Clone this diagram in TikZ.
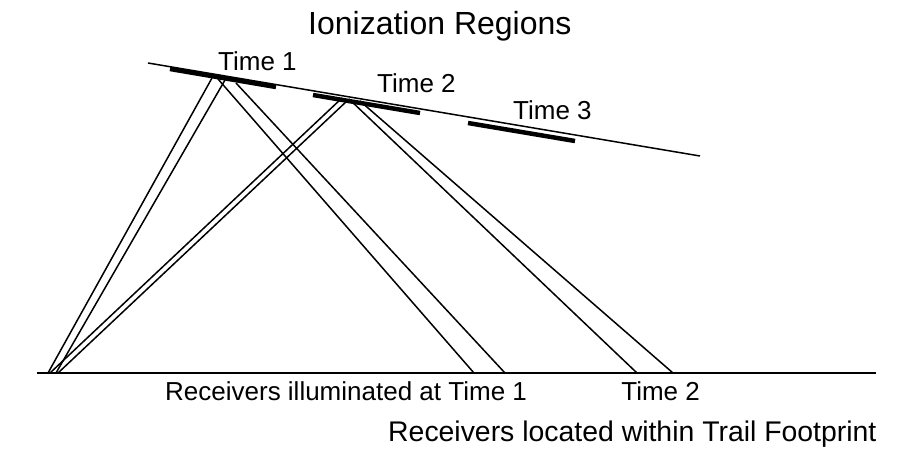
\documentclass[tikz,border=0pt]{standalone}
\usepackage{fontspec}
\setmainfont{Liberation Sans}
\usepackage{tikz}
\usetikzlibrary{positioning}

\begin{document}
\begin{tikzpicture}[
  x=1pt, y=-1pt,
  ray/.style={line width=1.5pt},
  trail/.style={line width=1.5pt},
  bar/.style={line width=4.5pt},
  ground/.style={line width=2pt},
  lbl/.style={inner sep=0pt, anchor=base west, font=\fontsize{26}{30}\selectfont},
  big/.style={inner sep=0pt, anchor=base west, font=\fontsize{28.4}{34}\selectfont}]
\useasboundingbox (0,0) rectangle (909,462);
% trail and ground
\coordinate (trA) at (148,63);
\coordinate (trB) at (700,156);
\coordinate (gA) at (37,373);
\coordinate (gB) at (876,373);
\draw[trail] (trA) -- (trB);
\draw[ground] (gA) -- (gB);
% ionization regions on the trail
\coordinate (b1a) at (170,69);  \coordinate (b1b) at (276,87);
\coordinate (b2a) at (313,95);  \coordinate (b2b) at (420,113);
\coordinate (b3a) at (468,123); \coordinate (b3b) at (575,141);
\draw[bar] (b1a) -- (b1b);
\draw[bar] (b2a) -- (b2b);
\draw[bar] (b3a) -- (b3b);
% transmitter side
\coordinate (tx1a) at (48,373);
\coordinate (tx1b) at (56,373);
\coordinate (tx2a) at (50,373);
\coordinate (tx2b) at (58,373);
% reflection points
\coordinate (p1a) at (212,78);
\coordinate (p1b) at (225,80);
\coordinate (p1c) at (218,79);
\coordinate (p1d) at (236,83);
\coordinate (p2a) at (342,98);
\coordinate (p2b) at (348,100);
\coordinate (p2c) at (349,99);
\coordinate (p2d) at (360,101);
% receivers
\coordinate (rx1a) at (474,373);
\coordinate (rx1b) at (505,373);
\coordinate (rx2a) at (637,373);
\coordinate (rx2b) at (673,373);
\draw[ray] (tx1a) -- (p1a);
\draw[ray] (tx1b) -- (p1b);
\draw[ray] (p1c) -- (rx1a);
\draw[ray] (p1d) -- (rx1b);
\draw[ray] (tx2a) -- (p2a);
\draw[ray] (tx2b) -- (p2b);
\draw[ray] (p2c) -- (rx2a);
\draw[ray] (p2d) -- (rx2b);
% labels
\node[big, font=\fontsize{32}{36}\selectfont] (title) at (308,35) {Ionization Regions};
\node[lbl] (t1) at (218,71) {Time 1};
\node[lbl] (t2) at (377,93) {Time 2};
\node[lbl] (t3) at (513,120) {Time 3};
\node[lbl] (rill) at (165,400) {Receivers illuminated at Time 1};
\node[lbl, right=94pt of rill.base east, anchor=base west] (rt2) {Time 2};
\node[big] (foot) at (388,441) {Receivers located within Trail Footprint};
\end{tikzpicture}
\end{document}
